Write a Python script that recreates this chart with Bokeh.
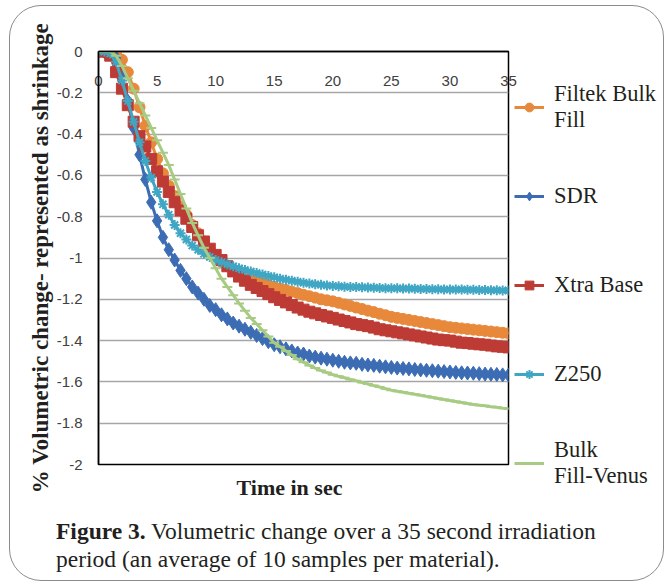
from bokeh.plotting import figure
from bokeh.models import (Range1d, FixedTicker, LinearAxis, Legend, LegendItem, Title, Div,
                          ColumnDataSource)
from bokeh.layouts import column
from bokeh.embed import file_html
from bokeh.resources import INLINE

time_s = [0.0, 0.5, 1.0, 1.5, 2.0, 2.5, 3.0, 3.5, 4.0, 4.5, 5.0, 5.5, 6.0, 6.5, 7.0, 7.5,
          8.0, 8.5, 9.0, 9.5, 10.0, 10.5, 11.0, 11.5, 12.0, 12.5, 13.0, 13.5, 14.0, 14.5,
          15.0, 15.5, 16.0, 16.5, 17.0, 17.5, 18.0, 18.5, 19.0, 19.5, 20.0, 20.5, 21.0,
          21.5, 22.0, 22.5, 23.0, 23.5, 24.0, 24.5, 25.0, 25.5, 26.0, 26.5, 27.0, 27.5,
          28.0, 28.5, 29.0, 29.5, 30.0, 30.5, 31.0, 31.5, 32.0, 32.5, 33.0, 33.5, 34.0,
          34.5, 35.0]

filtek_bulk_fill = [0, 0, 0, -0.01, -0.04, -0.10, -0.18, -0.27, -0.36, -0.44, -0.52, -0.59,
                    -0.65, -0.70, -0.75, -0.79, -0.84, -0.88, -0.92, -0.96, -0.99, -1.02,
                    -1.04, -1.06, -1.075, -1.09, -1.10, -1.11, -1.12, -1.13, -1.14, -1.148,
                    -1.155, -1.163, -1.17, -1.178, -1.185, -1.192, -1.20, -1.205, -1.21,
                    -1.217, -1.225, -1.232, -1.24, -1.247, -1.255, -1.262, -1.27, -1.277,
                    -1.285, -1.29, -1.295, -1.30, -1.305, -1.31, -1.315, -1.32, -1.325,
                    -1.33, -1.335, -1.338, -1.341, -1.344, -1.347, -1.35, -1.353, -1.356,
                    -1.359, -1.362, -1.365]

sdr = [0, 0, 0, -0.03, -0.12, -0.24, -0.37, -0.50, -0.62, -0.73, -0.82, -0.90, -0.96,
       -1.01, -1.06, -1.10, -1.14, -1.17, -1.20, -1.23, -1.25, -1.275, -1.295, -1.315,
       -1.33, -1.345, -1.36, -1.375, -1.39, -1.405, -1.42, -1.43, -1.44, -1.45, -1.46,
       -1.465, -1.475, -1.48, -1.485, -1.49, -1.495, -1.50, -1.505, -1.508, -1.51, -1.515,
       -1.518, -1.52, -1.524, -1.527, -1.53, -1.533, -1.535, -1.537, -1.54, -1.542,
       -1.544, -1.546, -1.548, -1.55, -1.552, -1.554, -1.556, -1.557, -1.558, -1.56,
       -1.562, -1.563, -1.564, -1.566, -1.567]

xtra_base = [0, 0, -0.02, -0.10, -0.18, -0.26, -0.34, -0.41, -0.46, -0.52, -0.58, -0.63,
             -0.68, -0.73, -0.77, -0.81, -0.85, -0.89, -0.92, -0.955, -0.985, -1.01,
             -1.04, -1.065, -1.09, -1.11, -1.13, -1.145, -1.16, -1.175, -1.19, -1.203,
             -1.215, -1.228, -1.24, -1.25, -1.26, -1.268, -1.276, -1.283, -1.29, -1.298,
             -1.305, -1.312, -1.32, -1.325, -1.33, -1.337, -1.345, -1.35, -1.355, -1.36,
             -1.365, -1.37, -1.375, -1.38, -1.385, -1.39, -1.395, -1.398, -1.40, -1.405,
             -1.41, -1.412, -1.415, -1.418, -1.42, -1.424, -1.428, -1.43, -1.433]

z250 = [0, 0, -0.01, -0.05, -0.14, -0.24, -0.34, -0.44, -0.53, -0.61, -0.68, -0.74, -0.79,
        -0.84, -0.88, -0.91, -0.94, -0.96, -0.98, -0.995, -1.01, -1.02, -1.03, -1.04,
        -1.05, -1.058, -1.065, -1.073, -1.08, -1.087, -1.093, -1.10, -1.105, -1.11,
        -1.115, -1.12, -1.124, -1.127, -1.13, -1.133, -1.135, -1.137, -1.139, -1.14,
        -1.141, -1.142, -1.143, -1.144, -1.145, -1.146, -1.147, -1.147, -1.148, -1.148,
        -1.149, -1.15, -1.15, -1.151, -1.151, -1.152, -1.152, -1.153, -1.153, -1.154,
        -1.154, -1.155, -1.155, -1.156, -1.156, -1.157, -1.157]

bulk_fill_venus = [0, 0, 0, -0.02, -0.07, -0.13, -0.19, -0.25, -0.31, -0.37, -0.43, -0.49,
                   -0.55, -0.62, -0.69, -0.76, -0.83, -0.89, -0.95, -1.0, -1.05, -1.10,
                   -1.14, -1.18, -1.22, -1.255, -1.29, -1.32, -1.35, -1.38, -1.41, -1.43,
                   -1.45, -1.47, -1.49, -1.505, -1.52, -1.533, -1.545, -1.555, -1.565,
                   -1.573, -1.58, -1.588, -1.595, -1.603, -1.61, -1.618, -1.625, -1.633,
                   -1.64, -1.645, -1.65, -1.655, -1.66, -1.665, -1.67, -1.675, -1.68,
                   -1.685, -1.69, -1.695, -1.70, -1.705, -1.71, -1.713, -1.716, -1.72,
                   -1.723, -1.727, -1.73]

series_names = ["Filtek Bulk\nFill", "SDR", "Xtra Base", "Z250", "Bulk\nFill-Venus"]
series_values = [filtek_bulk_fill, sdr, xtra_base, z250, bulk_fill_venus]

xtick_values = [0, 5, 10, 15, 20, 25, 30, 35]
xtick_labels = ["0", "5", "10", "15", "20", "25", "30", "35"]
ytick_values = [0, -0.2, -0.4, -0.6, -0.8, -1, -1.2, -1.4, -1.6, -1.8, -2]
ytick_labels = ["0", "-0.2", "-0.4", "-0.6", "-0.8", "-1", "-1.2", "-1.4", "-1.6", "-1.8", "-2"]

x_title = "Time in sec"
y_title = "% Volumetric change- represented as shrinkage"
caption_bold = "Figure 3."
caption_line1 = "Volumetric change over a 35 second irradiation"
caption_line2 = "period (an average of 10 samples per material)."

colors = ["#E8883A", "#3C6DB4", "#BE3B35", "#3FA6C4", "#A8CB84"]
markers = ["circle", "diamond", "square", "asterisk", "dash"]
msizes = [11, 14, 11, 10, 10]

SERIF = "Liberation Serif"
SANS = "Liberation Sans"
TEXT = "#231F20"
FRAME_LINE = "1px solid #8c8c8c"

p = figure(frame_width=410, frame_height=413,
           min_border_left=94, min_border_right=152, min_border_top=46, min_border_bottom=46,
           x_range=Range1d(0, 35), y_range=Range1d(-2, 0),
           output_backend="svg", toolbar_location=None, tools="")
p.background_fill_color = "white"
p.border_fill_color = None
p.outline_line_color = "black"
p.outline_line_width = 1.5

p.xaxis.visible = False
p.xgrid.visible = False
p.ygrid.ticker = FixedTicker(ticks=ytick_values)
p.ygrid.grid_line_color = "#A6A6A6"
p.ygrid.grid_line_width = 1.3

ax = p.yaxis[0]
ax.ticker = FixedTicker(ticks=ytick_values)
ax.major_label_overrides = {v: l for v, l in zip(ytick_values, ytick_labels)}
ax.major_tick_line_color = None
ax.minor_tick_line_color = None
ax.axis_line_color = "black"
ax.axis_line_width = 1.5
ax.major_label_standoff = 10
ax.major_label_text_font = SANS
ax.major_label_text_font_size = "15px"
ax.major_label_text_color = "#404040"
ax.axis_label = y_title
ax.axis_label_text_font = SERIF
ax.axis_label_text_font_style = "bold"
ax.axis_label_text_font_size = "23px"
ax.axis_label_text_color = TEXT
ax.axis_label_standoff = 1

# x axis sits on the top edge with its labels just inside the frame
top_axis = LinearAxis(ticker=FixedTicker(ticks=xtick_values),
                      major_label_overrides={v: l for v, l in zip(xtick_values, xtick_labels)})
top_axis.major_tick_line_color = None
top_axis.minor_tick_line_color = None
top_axis.axis_line_color = "black"
top_axis.axis_line_width = 1.5
top_axis.major_label_standoff = -40
top_axis.major_label_text_font = SANS
top_axis.major_label_text_font_size = "15px"
top_axis.major_label_text_color = "#404040"
p.add_layout(top_axis, "above")

items = []
for vals, c, m, s, name in zip(series_values, colors, markers, msizes, series_names):
    src = ColumnDataSource(dict(t=time_s, v=vals))
    lr = p.line("t", "v", source=src, line_color=c, line_width=3)
    sr = p.scatter("t", "v", source=src, marker=m, size=s, fill_color=c, line_color=c,
                   line_width=2 if m in ("asterisk", "dash") else 1)
    items.append(LegendItem(label=name, renderers=[lr, sr]))

legend = Legend(items=items, location=(6, -26), orientation="vertical",
                margin=0, padding=0, spacing=35, border_line_color=None,
                background_fill_alpha=0, glyph_width=30, glyph_height=22,
                label_height=54, label_standoff=10, label_text_font=SERIF,
                label_text_font_size="22.5px", label_text_color=TEXT)
p.add_layout(legend, "right")

p.add_layout(Title(text=x_title, align="left", offset=138, text_font=SERIF,
                   text_font_style="bold", text_font_size="22px", text_color=TEXT,
                   standoff=16), "below")

# caption box: its rounded border is pulled up to frame the whole figure
caption = Div(text=(f'<div style="padding-left:46px;padding-top:511px;font-family:{SERIF};'
                    f'font-size:23.5px;line-height:28px;color:{TEXT};white-space:nowrap">'
                    f'<b>{caption_bold}</b> {caption_line1}<br>{caption_line2}</div>'),
              width=655, height=576,
              styles={"margin-top": "-505px", "border": FRAME_LINE,
                      "border-radius": "32px", "position": "relative", "z-index": "2",
                      "pointer-events": "none"})

page = column(p, caption, spacing=0,
              styles={"margin-left": "4px", "margin-top": "5px"})

open("out.html", "w").write(file_html(page, INLINE))
